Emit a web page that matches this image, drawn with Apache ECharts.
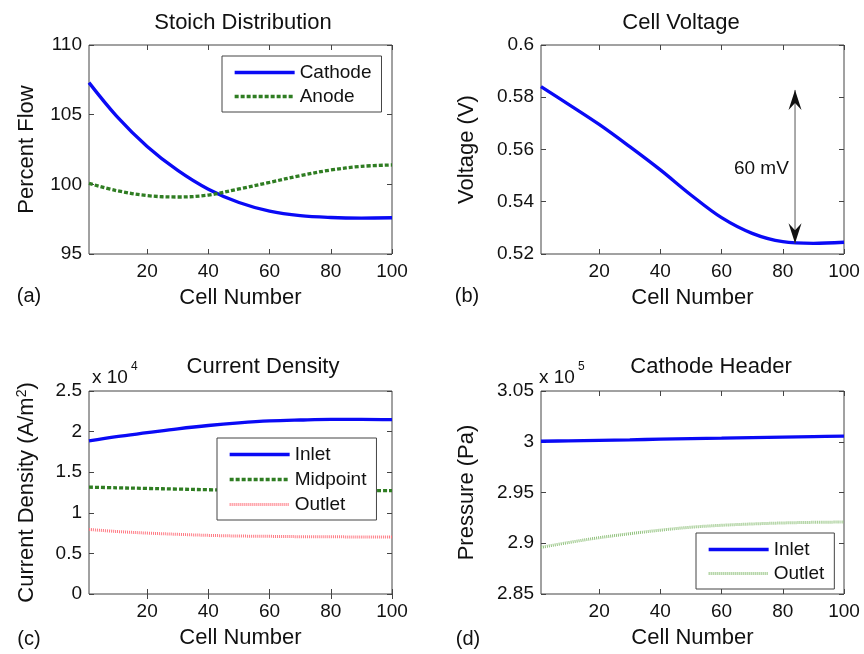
<!DOCTYPE html>
<html><head><meta charset="utf-8">
<script src="https://cdn.jsdelivr.net/npm/echarts@6/dist/echarts.min.js"></script>
<style>
html,body{margin:0;padding:0;background:#fff;}
#wrap{position:relative;width:864px;height:654px;overflow:hidden;background:#fff;}
.p{position:absolute;}
</style></head><body>
<div id="wrap">
<div id="pa" class="p" style="left:0;top:0;width:432px;height:320px"></div>
<div id="pb" class="p" style="left:432px;top:0;width:432px;height:320px"></div>
<div id="pc" class="p" style="left:0;top:320px;width:432px;height:334px"></div>
<div id="pd" class="p" style="left:432px;top:320px;width:432px;height:334px"></div>
</div>
<script>
// ---- data ----
const cells = [1, 10, 20, 30, 40, 50, 60, 70, 80, 90, 100];
const xTicks = [20, 40, 60, 80, 100];
const cathodeFlow = [107.3, 104.9, 102.72, 101.0, 99.65, 98.7, 98.08, 97.75, 97.62, 97.58, 97.6];
const anodeFlow   = [100.07, 99.55, 99.19, 99.09, 99.23, 99.67, 100.14, 100.62, 101.03, 101.29, 101.39];
const cellVoltage = [0.5841, 0.5773, 0.5696, 0.5611, 0.5522, 0.5426, 0.5339, 0.5279, 0.5247, 0.5241, 0.5245];
const inletCurrent  = [18860, 19380, 19860, 20340, 20750, 21070, 21310, 21430, 21510, 21510, 21470];
const midCurrent    = [13160, 13080, 13000, 12920, 12840, 12800, 12760, 12740, 12720, 12720, 12720];
const outletCurrent = [7950, 7700, 7500, 7350, 7220, 7140, 7100, 7060, 7050, 7020, 7020];
const inletPressure  = [300050, 300090, 300140, 300190, 300250, 300300, 300350, 300410, 300460, 300510, 300560];
const outletPressure = [289590, 290070, 290550, 290940, 291290, 291580, 291770, 291900, 292000, 292060, 292090];
const arrowCell = 84;
const arrowSpan = [0.5241, 0.5828];
const arrowText = '60 mV';
const arrowTextPos = [73, 0.5528];

// ---- styling helpers ----
const FF = '"Liberation Sans", Arial, Helvetica, sans-serif';
const BOX = '#444';
const TXT = '#111';
const zip = (xs, ys) => xs.map((x, i) => [x, ys[i]]);

function axes(ymin, ymax, yint, yname, fmt, ygap) {
  const xBase = {type: 'value', min: 1, max: 100, splitLine: {show: false}, axisLine: {show: false}};
  const yBase = {type: 'value', min: ymin, max: ymax, interval: yint, splitLine: {show: false}, axisLine: {show: false}};
  const tick = {inside: true, length: 5, lineStyle: {color: BOX, width: 1}};
  return {
    xAxis: [
      Object.assign({}, xBase, {position: 'bottom',
        axisTick: Object.assign({customValues: xTicks}, tick),
        axisLabel: {customValues: xTicks, fontSize: 19, color: TXT, fontFamily: FF, margin: 8},
        name: 'Cell Number', nameLocation: 'middle', nameGap: 33,
        nameTextStyle: {fontSize: 22, color: TXT, fontFamily: FF}}),
      Object.assign({}, xBase, {position: 'top',
        axisTick: Object.assign({customValues: xTicks}, tick), axisLabel: {show: false}})
    ],
    yAxis: [
      Object.assign({}, yBase, {position: 'left', axisTick: tick,
        axisLabel: {fontSize: 19, color: TXT, fontFamily: FF, margin: 7, formatter: fmt},
        name: yname, nameLocation: 'middle', nameGap: ygap,
        nameTextStyle: {fontSize: 22, color: TXT, fontFamily: FF,
          rich: {n: {fontSize: 22, color: TXT, fontFamily: FF}, s: {fontSize: 14, color: TXT, fontFamily: FF, verticalAlign: 'top', padding: [0, 0, 10, 0]}}}}),
      Object.assign({}, yBase, {position: 'right', axisTick: tick, axisLabel: {show: false}})
    ]
  };
}

function grid(left, top) {
  return {left: left, top: top, width: 303, height: top === 45 ? 209 : 207, show: true,
    borderColor: BOX, borderWidth: 1, backgroundColor: 'transparent', containLabel: false};
}

function legend(left, top, names, gap) {
  return {show: true, left: left, top: top, orient: 'vertical', data: names,
    itemWidth: 60, itemHeight: 14, itemGap: gap, padding: [7, 10, 6, 11],
    borderColor: BOX, borderWidth: 1, backgroundColor: '#fff', borderRadius: 0,
    textStyle: {fontSize: 19, color: TXT, fontFamily: FF},
    itemStyle: {opacity: 0, borderWidth: 0},
    lineStyle: {width: 'inherit'}, selectedMode: false};
}

function txt(x, y, s, size, align) {
  return {type: 'text', x: x, y: y, silent: true,
    style: {text: s, fontSize: size, fontFamily: FF, fill: TXT, align: align || 'center', verticalAlign: 'middle'}};
}

function line(name, xs, ys, color, width, type) {
  return {name: name, type: 'line', data: zip(xs, ys), showSymbol: false, symbol: 'none',
    smooth: 0.35, xAxisIndex: 0, yAxisIndex: 0, z: 3,
    lineStyle: {color: color, width: width, type: type}, itemStyle: {color: color}};
}

const BLUE = '#0a0af5', GREEN = '#2f7d22', PINK = '#ff7a84', LGREEN = '#92c27e';

// ---- (a) ----
const ca = echarts.init(document.getElementById('pa'));
ca.setOption(Object.assign({
  animation: false,
  grid: grid(89, 45),
  legend: legend(222, 56, ['Cathode', 'Anode'], 5),
  series: [
    line('Cathode', cells, cathodeFlow, BLUE, 3.3, 'solid'),
    line('Anode', cells, anodeFlow, GREEN, 3.3, [4, 2])
  ],
  graphic: [txt(243, 23, 'Stoich Distribution', 22), txt(29, 296, '(a)', 20)]
}, axes(95, 110, 5, 'Percent Flow', null, 51)));

// ---- (b) ----
const cb = echarts.init(document.getElementById('pb'));
cb.setOption(Object.assign({
  animation: false,
  grid: grid(109, 45),
  series: [line('Voltage', cells, cellVoltage, BLUE, 3.3, 'solid')],
  graphic: [txt(249, 23, 'Cell Voltage', 22), txt(35, 296, '(b)', 20)]
}, axes(0.52, 0.6, 0.02, 'Voltage (V)', null, 63)));
// double arrow annotation placed through the chart's own scales
(function () {
  const lo = cb.convertToPixel({gridIndex: 0}, [arrowCell, arrowSpan[0]]);
  const hi = cb.convertToPixel({gridIndex: 0}, [arrowCell, arrowSpan[1]]);
  const tp = cb.convertToPixel({gridIndex: 0}, arrowTextPos);
  const x = lo[0], hw = 6.5, hl = 20, notch = 7;
  const head = (tipY, dir) => ({type: 'polygon', silent: true, z: 10,
    shape: {points: [[x, tipY], [x - hw, tipY + dir * hl], [x, tipY + dir * (hl - notch)], [x + hw, tipY + dir * hl]]},
    style: {fill: '#111'}});
  cb.setOption({graphic: [
    txt(249, 23, 'Cell Voltage', 22), txt(35, 296, '(b)', 20),
    {type: 'line', silent: true, z: 9, shape: {x1: x, y1: lo[1], x2: x, y2: hi[1]}, style: {stroke: '#555', lineWidth: 1}},
    head(hi[1], 1), head(lo[1], -1),
    txt(tp[0], tp[1], arrowText, 19)
  ]}, {replaceMerge: ['graphic']});
})();

// ---- (c) ----
const cc = echarts.init(document.getElementById('pc'));
cc.setOption(Object.assign({
  animation: false,
  grid: grid(89, 71),
  legend: legend(217, 118, ['Inlet', 'Midpoint', 'Outlet'], 6),
  series: [
    line('Inlet', cells, inletCurrent, BLUE, 3.3, 'solid'),
    line('Midpoint', cells, midCurrent, GREEN, 3.3, [4, 2]),
    line('Outlet', cells, outletCurrent, PINK, 3, [1, 1])
  ],
  graphic: [txt(263, 47, 'Current Density', 22), txt(29, 319, '(c)', 20),
    txt(92, 58, 'x 10', 19, 'left'), txt(131, 47, '4', 12, 'left')]
}, axes(0, 25000, 5000, '{n|Current Density (A/m}{s|2}{n|)}', v => String(+(v / 1e4).toFixed(2)), 50)));

// ---- (d) ----
const cd = echarts.init(document.getElementById('pd'));
cd.setOption(Object.assign({
  animation: false,
  grid: grid(109, 71),
  legend: legend(264, 213, ['Inlet', 'Outlet'], 5),
  series: [
    line('Inlet', cells, inletPressure, BLUE, 3.3, 'solid'),
    line('Outlet', cells, outletPressure, LGREEN, 3, [1, 1])
  ],
  graphic: [txt(279, 47, 'Cathode Header', 22), txt(36, 319, '(d)', 20),
    txt(107, 58, 'x 10', 19, 'left'), txt(146, 47, '5', 12, 'left')]
}, axes(285000, 305000, 5000, 'Pressure (Pa)', v => String(+(v / 1e5).toFixed(2)), 63)));
</script>
</body></html>
